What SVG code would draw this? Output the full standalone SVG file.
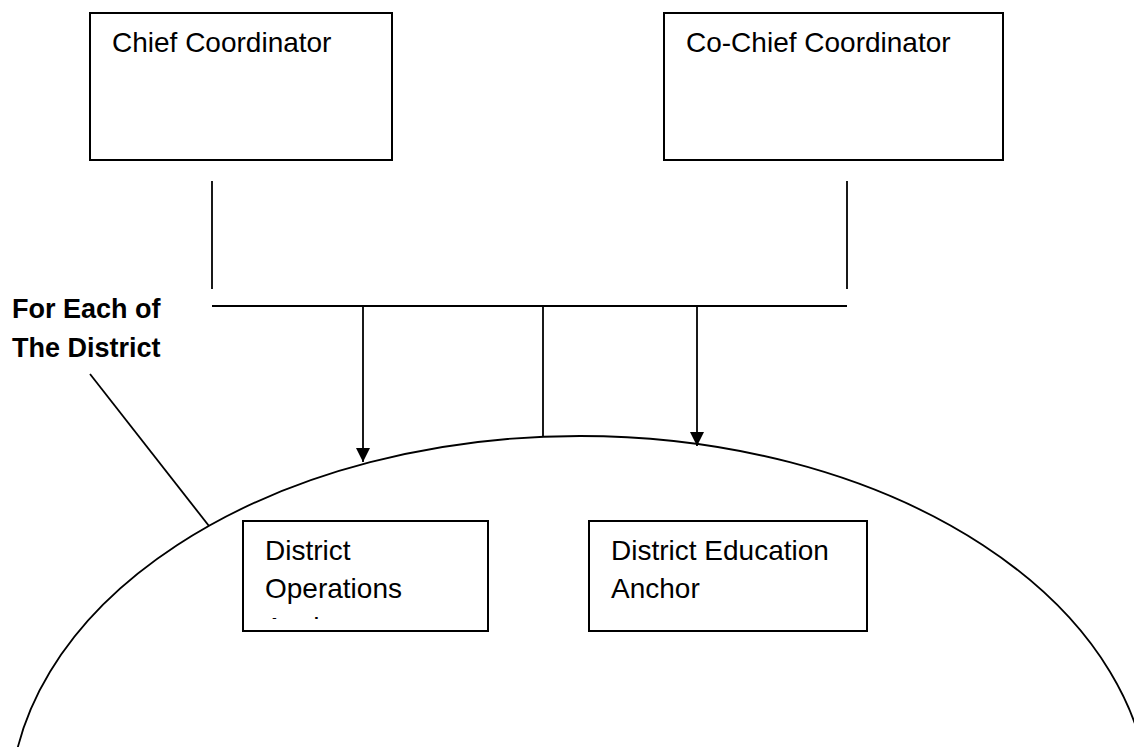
<svg xmlns="http://www.w3.org/2000/svg" width="1134" height="747" viewBox="0 0 1134 747">
<style>
.box{fill:#fff;stroke:#000;stroke-width:2}
.ln{fill:none;stroke:#000;stroke-width:1.8}
.t{font-family:"Liberation Sans",Arial,sans-serif;font-size:28px;fill:#000}
.b{font-family:"Liberation Sans",Arial,sans-serif;font-size:27px;font-weight:bold;fill:#000}
</style>
<defs>
<marker id="ah" viewBox="0 0 10 10" refX="10" refY="5" markerWidth="15" markerHeight="14" markerUnits="userSpaceOnUse" orient="auto">
<path d="M0,0 L10,5 L0,10 Z" fill="#000"/>
</marker>
<clipPath id="c1"><rect x="244" y="522" width="243" height="97"/></clipPath>
</defs>
<rect width="1134" height="747" fill="#fff"/>
<g id="district-area">
<ellipse cx="580" cy="809" rx="570" ry="373" class="ln"/>
</g>
<g id="connectors">
<line x1="212" y1="181" x2="212" y2="289" class="ln"/>
<line x1="847" y1="181" x2="847" y2="289" class="ln"/>
<line x1="212" y1="306" x2="847" y2="306" class="ln"/>
<line x1="363" y1="306" x2="363" y2="462" class="ln" marker-end="url(#ah)"/>
<line x1="543" y1="306" x2="543" y2="437" class="ln"/>
<line x1="697" y1="306" x2="697" y2="446" class="ln" marker-end="url(#ah)"/>
<line x1="90" y1="374" x2="209" y2="526" class="ln"/>
</g>
<g id="chief">
<rect x="90" y="13" width="302" height="147" class="box"/>
<text x="112" y="52" class="t">Chief Coordinator</text>
</g>
<g id="co-chief">
<rect x="664" y="13" width="339" height="147" class="box"/>
<text x="686" y="52" class="t">Co-Chief Coordinator</text>
</g>
<g id="label">
<text x="12" y="318" class="b">For Each of</text>
<text x="12" y="357" class="b">The District</text>
</g>
<g id="ops">
<rect x="243" y="521" width="245" height="110" class="box"/>
<g clip-path="url(#c1)">
<text x="265" y="560" class="t">District</text>
<text x="265" y="598" class="t">Operations</text>
<text x="265" y="637" class="t">Anchor</text>
</g>
</g>
<g id="edu">
<rect x="589" y="521" width="278" height="110" class="box"/>
<text x="611" y="560" class="t">District Education</text>
<text x="611" y="598" class="t">Anchor</text>
</g>
</svg>
